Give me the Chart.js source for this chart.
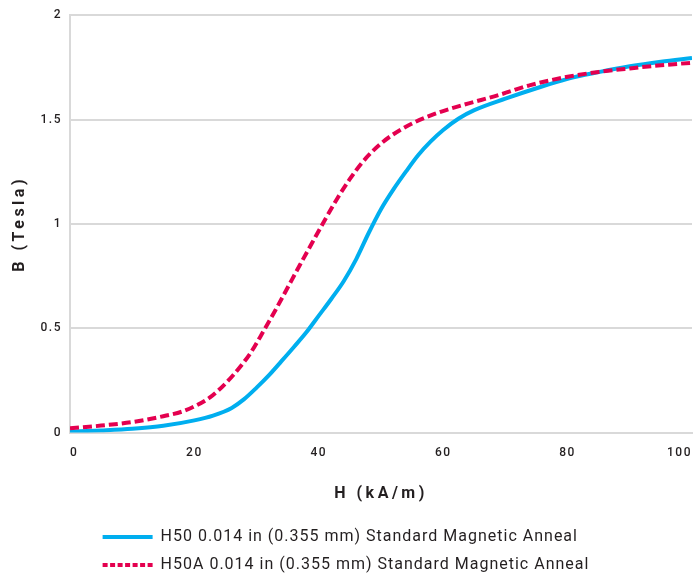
<!DOCTYPE html>
<html>
  <head>
    <title>B-H Curve</title>
    <script src="https://cdn.jsdelivr.net/npm/chart.js@4.4.1/dist/chart.umd.min.js"></script>
    <style>
      html, body { margin: 0; padding: 0; background: #fff; }
      #wrap { width: 694px; height: 578px; }
    </style>
  </head>
  <body>
    <div id="wrap"><canvas id="bhChart"></canvas></div>
    <script>
      // H50: field strength H (kA/m) and flux density B (T)
      const h50Field = [0, 5, 10, 15, 20, 23, 26, 28, 30, 32, 34, 36, 38, 40, 42, 44, 46, 48, 50, 52, 54, 56, 58, 60, 62.5, 65, 70, 75, 80, 85, 90, 95, 100];
      const h50Flux = [0.004, 0.01, 0.018, 0.032, 0.058, 0.081, 0.118, 0.16, 0.215, 0.275, 0.342, 0.41, 0.48, 0.56, 0.64, 0.725, 0.83, 0.955, 1.07, 1.165, 1.25, 1.33, 1.395, 1.45, 1.505, 1.545, 1.6, 1.65, 1.695, 1.727, 1.755, 1.777, 1.795];

      // H50A
      const h50aField = [0, 5, 10, 15, 18, 20, 22.5, 25, 27.5, 29, 31, 33, 35, 37, 39, 41, 43, 45, 47, 50, 53.5, 58, 63, 69, 74, 80, 85, 90, 95, 100];
      const h50aFlux = [0.02, 0.033, 0.05, 0.078, 0.1, 0.125, 0.168, 0.235, 0.32, 0.38, 0.48, 0.585, 0.695, 0.805, 0.913, 1.02, 1.123, 1.215, 1.295, 1.385, 1.457, 1.52, 1.568, 1.618, 1.665, 1.705, 1.728, 1.745, 1.76, 1.772];

      const seriesNames = [
        "H50 0.014 in (0.355 mm) Standard Magnetic Anneal",
        "H50A 0.014 in (0.355 mm) Standard Magnetic Anneal",
      ];
      const xTicks = [0, 20, 40, 60, 80, 100];
      const yTicks = [0, 0.5, 1, 1.5, 2];

      const toPoints = (xs, ys) => xs.map((x, i) => ({ x: x, y: ys[i] }));

      const canvas = document.getElementById("bhChart");
      const ctx = canvas.getContext("2d");

      // spaced-out lettering: wide on the bold axis titles, a little elsewhere
      function spacingFor(font) {
        if (font.includes("bold") || font.includes("700")) return "3.5px";
        if (font.includes("12px")) return "1.5px";
        if (font.includes("16px")) return "1px";
        return "0px";
      }
      ["fillText", "measureText"].forEach((name) => {
        const orig = ctx[name].bind(ctx);
        ctx[name] = (...args) => {
          ctx.letterSpacing = spacingFor(ctx.font);
          return orig(...args);
        };
      });

      // start both legend rows at the same x
      const alignLegendRows = {
        id: "alignLegendRows",
        beforeDraw(chart) {
          const lw = chart.legend && chart.legend.lineWidths;
          if (lw && lw.length) lw.fill(Math.max(...lw));
        },
      };

      const textColor = "#231f20";
      const gridColor = "#d9d9d9";

      new Chart(ctx, {
        type: "line",
        data: {
          datasets: [
            {
              label: seriesNames[0],
              data: toPoints(h50Field, h50Flux),
              borderColor: "#00aeef",
              backgroundColor: "#00aeef",
              borderWidth: 4,
              pointRadius: 0,
              cubicInterpolationMode: "monotone",
              order: 2,
            },
            {
              label: seriesNames[1],
              data: toPoints(h50aField, h50aFlux),
              borderColor: "#e4004f",
              backgroundColor: "#e4004f",
              borderWidth: 4,
              borderDash: [9, 4],
              pointRadius: 0,
              cubicInterpolationMode: "monotone",
              order: 1,
            },
          ],
        },
        options: {
          responsive: true,
          maintainAspectRatio: false,
          animation: false,
          layout: { padding: { top: 3.5, right: 2, bottom: -5, left: 0 } },
          plugins: {
            tooltip: { enabled: false },
            legend: {
              position: "bottom",
              labels: {
                color: textColor,
                font: { family: "Roboto", size: 16 },
                padding: 12,
                usePointStyle: true,
                pointStyleWidth: 50,
                generateLabels: (chart) =>
                  chart.data.datasets.map((ds, i) => ({
                    text: ds.label,
                    strokeStyle: ds.borderColor,
                    fillStyle: ds.borderColor,
                    lineWidth: 4,
                    lineDash: ds.borderDash ? [5, 2.5] : [],
                    lineCap: "butt",
                    pointStyle: "line",
                    fontColor: textColor,
                    hidden: false,
                    datasetIndex: i,
                  })),
              },
            },
          },
          scales: {
            x: {
              type: "linear",
              min: 0,
              max: 100,
              afterFit: (scale) => {
                scale.height = 84.5;
                // end labels sit inside the axis, so no side padding is needed
                scale.paddingLeft = 0;
                scale.paddingRight = 0;
              },
              afterBuildTicks: (scale) => { scale.ticks = xTicks.map((v) => ({ value: v })); },
              grid: { display: false, drawTicks: false },
              border: { display: true, color: gridColor, width: 2 },
              ticks: {
                align: "inner",
                padding: 13,
                color: textColor,
                font: { family: "Roboto", size: 12, weight: 500 },
                callback: (v) => String(v),
              },
              title: {
                display: true,
                text: "H (kA/m)",
                color: textColor,
                font: { family: "Roboto", size: 16, weight: "bold" },
                padding: { top: 0, bottom: 13 },
              },
            },
            y: {
              type: "linear",
              min: 0,
              max: 2,
              afterFit: (scale) => { scale.width = 70; },
              afterBuildTicks: (scale) => { scale.ticks = yTicks.map((v) => ({ value: v })); },
              grid: { color: gridColor, lineWidth: 2, drawTicks: false },
              border: { display: true, color: gridColor, width: 2 },
              ticks: {
                padding: 8,
                color: textColor,
                font: { family: "Roboto", size: 12, weight: 500 },
                callback: (v) => String(v),
              },
              title: {
                display: true,
                text: "B (Tesla)",
                color: textColor,
                font: { family: "Roboto", size: 16, weight: "bold" },
                padding: { top: 10, bottom: 0 },
              },
            },
          },
        },
        plugins: [alignLegendRows],
      });
    </script>
  </body>
</html>
